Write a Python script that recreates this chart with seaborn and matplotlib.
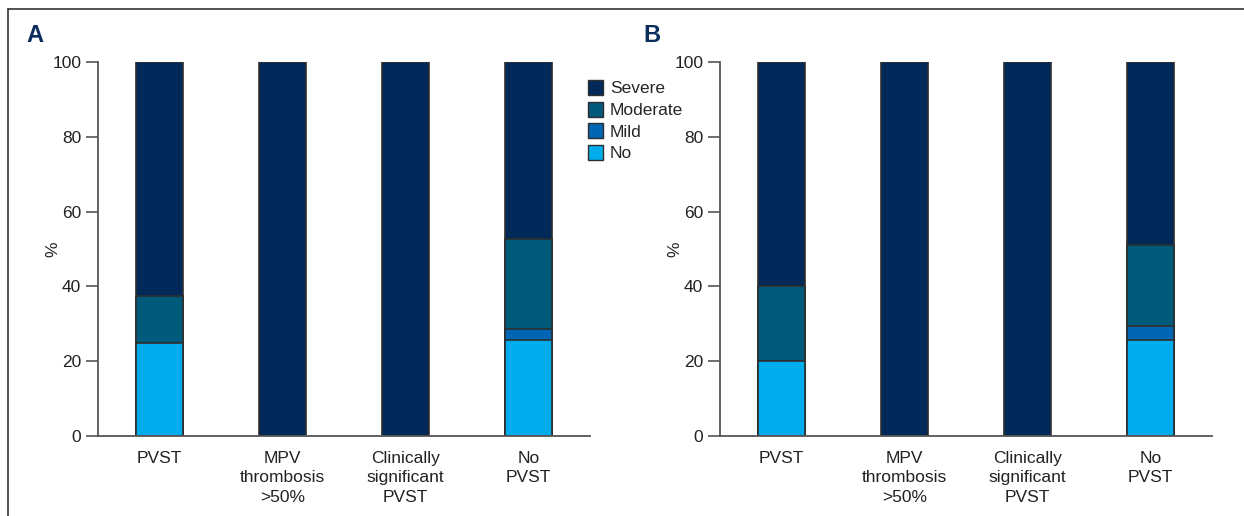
import matplotlib
matplotlib.use("Agg")
import matplotlib.pyplot as plt
from matplotlib.patches import Patch
from matplotlib.lines import Line2D
import seaborn as sns
import pandas as pd
import numpy as np

categories = ["PVST", "MPV\nthrombosis\n>50%", "Clinically\nsignificant\nPVST", "No\nPVST"]
levels = ["No", "Mild", "Moderate", "Severe"]

a_no = [25.0, 0.0, 0.0, 25.7]
a_mild = [0.0, 0.0, 0.0, 2.9]
a_moderate = [12.5, 0.0, 0.0, 24.0]
a_severe = [62.5, 100.0, 100.0, 47.4]

b_no = [20.0, 0.0, 0.0, 25.7]
b_mild = [0.0, 0.0, 0.0, 3.6]
b_moderate = [20.0, 0.0, 0.0, 21.8]
b_severe = [60.0, 100.0, 100.0, 48.9]

yticks = [0, 20, 40, 60, 80, 100]
panel_labels = ["A", "B"]

colors = {"Severe": "#00295a", "Moderate": "#005a7c", "Mild": "#0066b3", "No": "#00adec"}
edge = "#2e2e2e"
spine_col = "#555555"

sns.set_theme(style="white")
plt.rcParams["font.family"] = ["Liberation Sans", "DejaVu Sans"]

fig = plt.figure(figsize=(12.44, 5.16), dpi=100)
W, H = 1244, 516
axA = fig.add_axes([98 / W, (H - 436) / H, 492 / W, 374 / H])
axB = fig.add_axes([720 / W, (H - 436) / H, 492 / W, 374 / H])

def draw(ax, no, mild, moderate, severe, label, lx):
    df = pd.DataFrame({"cat": categories, "No": no, "Mild": mild,
                       "Moderate": moderate, "Severe": severe})
    cum = df[levels].cumsum(axis=1)
    for lev in reversed(levels):
        sns.barplot(data=pd.DataFrame({"cat": categories, "v": cum[lev]}),
                    x="cat", y="v", order=categories, ax=ax,
                    color=colors[lev], saturation=1, width=0.39,
                    edgecolor=edge, linewidth=1.2, errorbar=None)
    ax.set_ylim(0, 100)
    ax.set_xlim(-0.5, 3.5)
    ax.set_yticks(yticks)
    ax.set_yticklabels([str(t) for t in yticks], fontsize=12.5, color="#222222")
    ax.set_xticklabels(categories, fontsize=12.5, color="#222222", linespacing=1.35)
    ax.set_xlabel("")
    ax.set_ylabel("%", fontsize=12.5, color="#222222", labelpad=-6)
    ax.tick_params(axis="y", which="both", left=True, length=9, width=1.2,
                   color=spine_col, pad=3)
    ax.tick_params(axis="x", bottom=False, pad=5)
    for s in ["top", "right"]:
        ax.spines[s].set_visible(False)
    for s in ["left", "bottom"]:
        ax.spines[s].set_color(spine_col)
        ax.spines[s].set_linewidth(1.3)
    fig.text(lx / W, 1 - 36 / H, label, fontsize=17, fontweight="bold",
             color="#0a2d5e", ha="left", va="center")

draw(axA, a_no, a_mild, a_moderate, a_severe, panel_labels[0], 26)
draw(axB, b_no, b_mild, b_moderate, b_severe, panel_labels[1], 643)

handles = [Patch(facecolor=colors[l], edgecolor=edge, linewidth=1.0) for l in reversed(levels)]
fig.legend(handles, list(reversed(levels)), loc="upper left",
           bbox_to_anchor=(588 / W, 1 - 80 / H), frameon=False, fontsize=12.5,
           handlelength=0.85, handleheight=0.95, handletextpad=0.4,
           labelspacing=0.3, borderaxespad=0, borderpad=0)

fig.add_artist(Line2D([8 / W, 8 / W], [0, 1 - 9 / H], transform=fig.transFigure,
                      color="#333333", linewidth=1.2))
fig.add_artist(Line2D([8 / W, 1], [1 - 9 / H, 1 - 9 / H], transform=fig.transFigure,
                      color="#333333", linewidth=1.2))

fig.savefig("out.png", dpi=100)
